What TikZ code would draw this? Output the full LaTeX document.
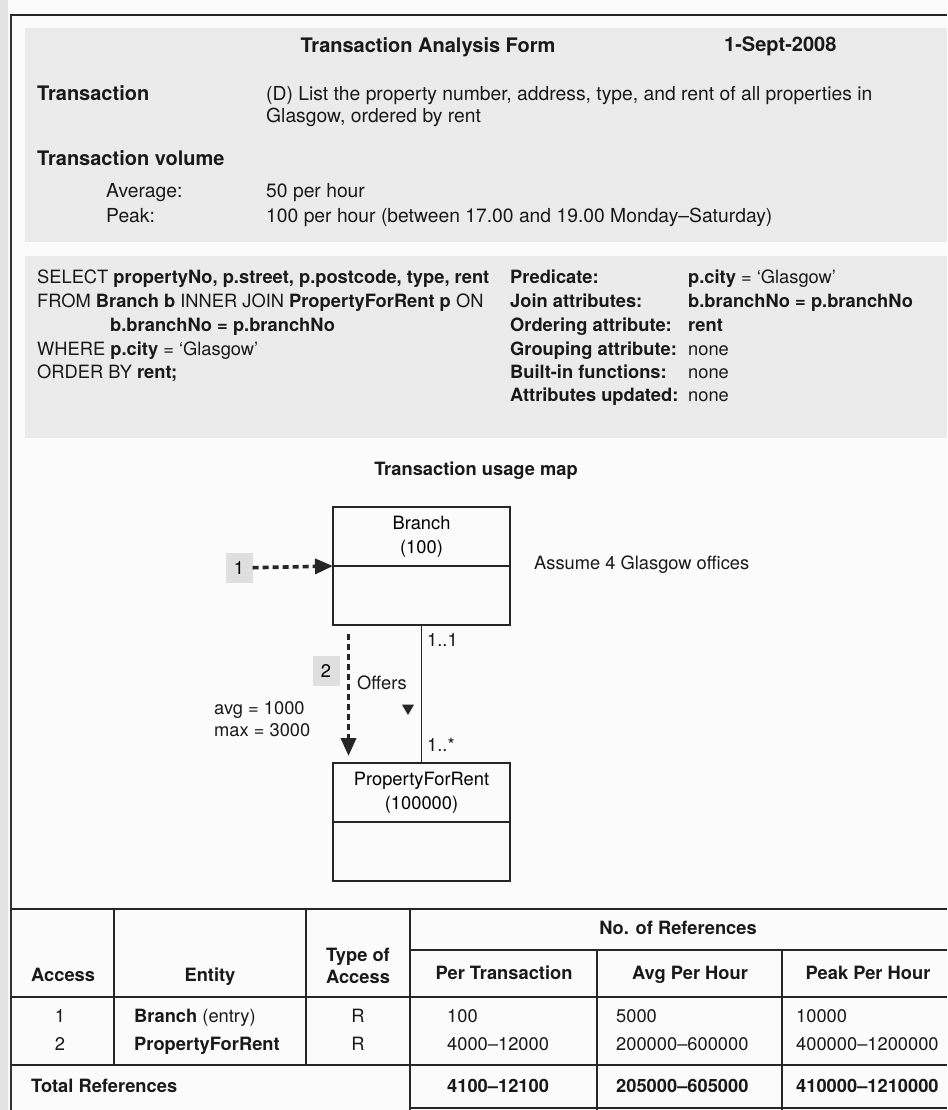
\documentclass[tikz,border=0pt]{standalone}
\usepackage{fontspec}
\setmainfont{TeX Gyre Heros}
\usepackage{tikz}
\usetikzlibrary{positioning, arrows.meta, shapes.geometric}

\newcommand{\hdfont}{\fontsize{20}{24}\selectfont}
\newcommand{\txfont}{\fontsize{19.3}{23}\selectfont}
\newcommand{\smfont}{\fontsize{18.3}{22}\selectfont}
\newcommand{\clsfont}{\fontsize{18.3}{24}\selectfont}

\begin{document}
\begin{tikzpicture}[
    x=1pt, y=-1pt,
    txt/.style  = {anchor=west, inner sep=0pt, text height=13.5pt,
                   text depth=4pt, font=\txfont, text=black!90},
    hd/.style   = {txt, font=\hdfont\bfseries},
    sql/.style  = {txt, font=\smfont},
    sqlb/.style = {txt, font=\smfont\bfseries},
    band/.style = {fill=gray!16},
    cls/.style  = {rectangle, draw=black!85, line width=1.3pt,
                   minimum width=177pt, minimum height=59pt,
                   inner sep=0pt, outer sep=0pt, align=center, font=\clsfont},
    num/.style  = {rectangle, fill=gray!25, minimum width=27pt,
                   minimum height=30pt, inner sep=0pt, font=\smfont},
    tri/.style  = {regular polygon, regular polygon sides=3,
                   shape border rotate=180, fill=black!85,
                   minimum size=14pt, inner sep=0pt},
    dotarr/.style = {-{Triangle[length=18pt, width=15pt]}, line width=3.6pt,
                     dash pattern=on 6pt off 4pt, black!85},
    assoc/.style  = {line width=1.3pt, black!85},
    rule/.style   = {line width=1.3pt, black!85}
]
\useasboundingbox (0,0) rectangle (947,1110);

% Page and frame
\fill[gray!3] (0,0) rectangle (947,1110);
\fill[gray!22] (0,0) rectangle (8,1110);
\draw[line width=1.8pt, black!85] (10,15) -- (947,15);
\draw[line width=1.5pt, black!80] (11,15) -- (11,1110);
\fill[band] (25,28) rectangle (947,242);
\fill[band] (25,256) rectangle (947,438);

% Form header
\node[hd, anchor=center] (title) at (428,48) {Transaction Analysis Form};
\node[hd] (date) at (724,47) {1-Sept-2008};
\node[hd]  (trlbl) at (37,96)  {Transaction};
\node[txt] (trtx1) at (266,96) {(D) List the property number, address, type, and rent of all properties in};
\node[txt] (trtx2) at (266,118) {Glasgow, ordered by rent};
\node[hd]  (vol)   at (37,161) {Transaction volume};
\node[txt] (avgl)  at (106,193) {Average:};
\node[txt] (avgv)  at (266,193) {50 per hour};
\node[txt] (pkl)   at (106,218) {Peak:};
\node[txt] (pkv)   at (266,218) {100 per hour (between 17.00 and 19.00 Monday–Saturday)};

% SQL query
\node[sql] (sel)   at (37,279)  {SELECT \textbf{propertyNo, p.street, p.postcode, type, rent}};
\node[sql] (from)  at (37,303)  {FROM \textbf{Branch b} INNER JOIN \textbf{PropertyForRent p} ON};
\node[sqlb] (on)   at (110,327) {b.branchNo = p.branchNo};
\node[sql] (where) at (37,351)  {WHERE \textbf{p.city} = ‘Glasgow’};
\node[sql] (order) at (37,374)  {ORDER BY \textbf{rent;}};

% Query attributes
\node[sqlb] (pred)  at (510,279) {Predicate:};
\node[sql]  (predv) at (688,279) {\textbf{p.city} = ‘Glasgow’};
\node[sqlb] (joina) at (510,303) {Join attributes:};
\node[sqlb] (joinv) at (688,303) {b.branchNo = p.branchNo};
\node[sqlb] (orda)  at (510,327) {Ordering attribute:};
\node[sqlb] (ordv)  at (688,327) {rent};
\node[sqlb] (grpa)  at (510,351) {Grouping attribute:};
\node[sql]  (grpv)  at (688,351) {none};
\node[sqlb] (bifa)  at (510,374) {Built-in functions:};
\node[sql]  (bifv)  at (688,374) {none};
\node[sqlb] (upda)  at (510,397) {Attributes updated:};
\node[sql]  (updv)  at (688,397) {none};

% Usage map
\node[sqlb, anchor=center] (map) at (476,471) {Transaction usage map};
\node[cls] (brtop) at (421.5,536.5) {Branch\\(100)};
\node[cls, below=0pt of brtop] (brbot) {};
\node[cls, below=138pt of brbot] (pftop) {PropertyForRent\\(100000)};
\node[cls, below=0pt of pftop] (pfbot) {};

\node[num] (one) at (239,568) {1};
\node[num] (two) at (326,671) {2};
\node[sql] (assume) at (534,565) {Assume 4 Glasgow offices};
\node[sql] (m11)    at (427,642) {1..1};
\node[sql] (m1n)    at (427,747) {1..*};
\node[sql] (offers) at (357,685) {Offers};
\node[tri] (dir)    at (408,708) {};
\node[sql] (avg)    at (214,710) {avg = 1000};
\node[sql] (max)    at (214,732) {max = 3000};

\draw[dotarr] (one) -- (brtop.south west);
\draw[dotarr] ([xshift=-73pt, yshift=-9pt]brbot.south) -- ([xshift=-73pt, yshift=7pt]pftop.north);
\draw[assoc] (brbot) -- (pftop);

% Reference table
\draw[rule] (11,909) -- (947,909);
\draw[rule] (410,950) -- (947,950);
\draw[rule] (11,997) -- (947,997);
\draw[rule] (11,1065) -- (947,1065);
\draw[rule] (410,1108) -- (947,1108);
\draw[rule] (114,909) -- (114,1065);
\draw[rule] (306,909) -- (306,1065);
\draw[rule] (410,909) -- (410,1110);
\draw[rule] (597,950) -- (597,1110);
\draw[rule] (782,950) -- (782,1110);

\node[sqlb] (hacc) at (31,977) {Access};
\node[sqlb, anchor=center] (hent) at (210,977) {Entity};
\node[align=center, inner sep=0pt, font=\smfont\bfseries, text=black!90] (htyp) at (358,966) {Type of\\Access};
\node[sqlb, anchor=center] (hnor) at (678,930) {No. of References};
\node[sqlb, anchor=center] (hper) at (504,975) {Per Transaction};
\node[sqlb, anchor=center] (havg) at (690,975) {Avg Per Hour};
\node[sqlb, anchor=center] (hpk)  at (868,975) {Peak Per Hour};

\node[sql, anchor=center] (a1) at (60,1018) {1};
\node[sql, anchor=center] (a2) at (60,1046) {2};
\node[sql] (e1) at (134,1018) {\textbf{Branch} (entry)};
\node[sqlb] (e2) at (134,1046) {PropertyForRent};
\node[sql, anchor=center] (t1) at (358,1018) {R};
\node[sql, anchor=center] (t2) at (358,1046) {R};
\node[sql] (p1) at (447,1018) {100};
\node[sql] (p2) at (447,1046) {4000–12000};
\node[sql] (v1) at (616,1018) {5000};
\node[sql] (v2) at (616,1046) {200000–600000};
\node[sql] (k1) at (796,1018) {10000};
\node[sql] (k2) at (796,1046) {400000–1200000};

\node[sqlb] (tot)  at (31,1088)  {Total References};
\node[sqlb] (totp) at (447,1088) {4100–12100};
\node[sqlb] (totv) at (616,1088) {205000–605000};
\node[sqlb] (totk) at (796,1088) {410000–1210000};
\end{tikzpicture}
\end{document}
